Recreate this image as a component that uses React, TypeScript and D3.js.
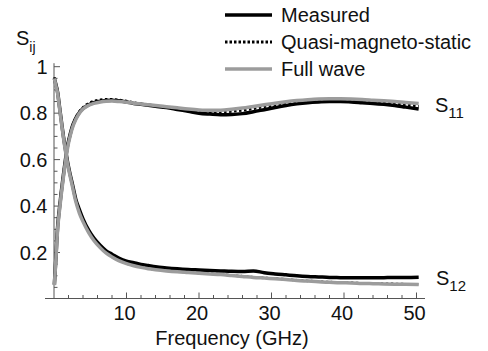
import React from 'react';
import * as d3 from 'd3';

const freq = [0.05, 0.25, 0.5, 0.75, 1.0, 1.3, 1.6, 1.9, 2.2, 2.5, 3.0, 3.5, 4.0, 4.8, 5.5, 6.4, 7.2, 8.0, 9.0, 10, 11, 12, 13, 14, 15.5, 17, 18.5, 20, 21.5, 23, 24.5, 26, 27.5, 29, 30.5, 32, 33.5, 35, 36.5, 38, 39.5, 41, 42.5, 44, 45.5, 47, 48.5, 50.3];

const s11Measured = [0.062, 0.17, 0.31, 0.39, 0.46, 0.535, 0.605, 0.665, 0.705, 0.74, 0.778, 0.803, 0.82, 0.836, 0.845, 0.851, 0.855, 0.856, 0.853, 0.848, 0.842, 0.838, 0.834, 0.83, 0.824, 0.816, 0.808, 0.8, 0.796, 0.793, 0.794, 0.798, 0.806, 0.815, 0.824, 0.833, 0.84, 0.845, 0.848, 0.85, 0.85, 0.848, 0.845, 0.842, 0.838, 0.833, 0.826, 0.818];
const s11FullWave = [0.06, 0.165, 0.3, 0.38, 0.45, 0.525, 0.595, 0.655, 0.698, 0.733, 0.773, 0.8, 0.818, 0.834, 0.842, 0.848, 0.851, 0.852, 0.85, 0.847, 0.843, 0.839, 0.836, 0.833, 0.828, 0.823, 0.818, 0.814, 0.812, 0.813, 0.817, 0.822, 0.829, 0.836, 0.843, 0.849, 0.854, 0.858, 0.861, 0.862, 0.862, 0.861, 0.859, 0.856, 0.853, 0.85, 0.846, 0.842];
const s11Quasi = [0.064, 0.172, 0.31, 0.392, 0.462, 0.537, 0.607, 0.666, 0.708, 0.742, 0.781, 0.807, 0.825, 0.843, 0.852, 0.858, 0.86, 0.86, 0.857, 0.852, 0.846, 0.84, 0.836, 0.832, 0.826, 0.82, 0.814, 0.809, 0.806, 0.805, 0.807, 0.812, 0.819, 0.827, 0.835, 0.842, 0.848, 0.852, 0.855, 0.856, 0.856, 0.855, 0.852, 0.849, 0.845, 0.841, 0.836, 0.83];

const s12Measured = [0.95, 0.925, 0.89, 0.83, 0.77, 0.7, 0.64, 0.585, 0.54, 0.5, 0.43, 0.385, 0.345, 0.295, 0.262, 0.23, 0.207, 0.193, 0.175, 0.163, 0.156, 0.149, 0.144, 0.139, 0.134, 0.13, 0.127, 0.125, 0.123, 0.121, 0.119, 0.118, 0.121, 0.113, 0.108, 0.104, 0.1, 0.097, 0.095, 0.093, 0.092, 0.091, 0.091, 0.091, 0.092, 0.093, 0.093, 0.094];
const s12FullWave = [0.95, 0.92, 0.885, 0.825, 0.765, 0.695, 0.633, 0.578, 0.532, 0.49, 0.42, 0.37, 0.333, 0.285, 0.252, 0.22, 0.197, 0.181, 0.164, 0.152, 0.143, 0.136, 0.13, 0.126, 0.121, 0.117, 0.114, 0.111, 0.108, 0.105, 0.101, 0.097, 0.093, 0.09, 0.087, 0.084, 0.08, 0.077, 0.074, 0.072, 0.07, 0.069, 0.067, 0.066, 0.065, 0.064, 0.063, 0.062];
const s12Quasi = [0.955, 0.927, 0.893, 0.834, 0.774, 0.704, 0.642, 0.587, 0.54, 0.498, 0.428, 0.378, 0.34, 0.29, 0.256, 0.223, 0.2, 0.183, 0.165, 0.153, 0.144, 0.137, 0.131, 0.127, 0.122, 0.118, 0.115, 0.112, 0.109, 0.106, 0.102, 0.098, 0.094, 0.091, 0.088, 0.085, 0.081, 0.078, 0.075, 0.073, 0.071, 0.07, 0.068, 0.067, 0.066, 0.065, 0.064, 0.063];

const xMajorTicks = [10, 20, 30, 40, 50];
const xMinorTicks = d3.range(2, 51, 2);
const yMajorTicks = [0.2, 0.4, 0.6, 0.8, 1];
const yTickLabels = ['0.2', '0.4', '0.6', '0.8', '1'];
const yMinorTicks = d3.range(1, 21).map((i) => i * 0.05);

const legendItems = ['Measured', 'Quasi-magneto-static', 'Full wave'];

const FONT = '"Liberation Sans", Arial, sans-serif';
const GRAY = '#9c9c9c';
const AXIS = '#555';

export default function App() {
  const x = d3.scaleLinear().domain([0, 50]).range([54, 416.5]);
  const y = d3.scaleLinear().domain([0, 1]).range([299, 66.7]);
  const mk = (vals: number[]) =>
    d3
      .line<number>()
      .x((_, i) => x(freq[i]))
      .y((d) => y(d))
      .curve(d3.curveMonotoneX)(vals) || '';

  const legendStyles = [
    { stroke: '#000', dash: undefined as string | undefined, w: 3.5 },
    { stroke: '#000', dash: '2.5,2', w: 3 },
    { stroke: GRAY, dash: undefined as string | undefined, w: 3.5 },
  ];
  const legendY = [15, 42, 69];

  return (
    <div style={{ position: 'absolute', left: 0, top: 0 }}>
      <svg width={488} height={351} style={{ display: 'block', background: '#fff' }} fontFamily={FONT}>
        {/* axes */}
        <line x1={45} x2={425} y1={298.5} y2={298.5} stroke={AXIS} strokeWidth={1} />
        <line x1={54} x2={54} y1={y(1.015)} y2={298.5} stroke={AXIS} strokeWidth={1} />
        {xMinorTicks.map((t) => (
          <line key={'xm' + t} x1={x(t)} x2={x(t)} y1={298.5} y2={298.5 - (t % 10 === 0 ? 6 : 3.5)} stroke={AXIS} strokeWidth={1} />
        ))}
        {yMinorTicks.map((t, i) => (
          <line key={'ym' + i} x1={54} x2={54 + ((i + 1) % 4 === 0 ? 6 : 3.5)} y1={y(t)} y2={y(t)} stroke={AXIS} strokeWidth={1} />
        ))}
        {xMajorTicks.map((t) => (
          <text key={'xl' + t} x={x(t) - 2} y={320} textAnchor="middle" fontSize={20} fill="#111">
            {t}
          </text>
        ))}
        {yMajorTicks.map((t, i) => (
          <text key={'yl' + t} x={47.5} y={y(t)} dy="0.36em" textAnchor="end" fontSize={20} fill="#111">
            {yTickLabels[i]}
          </text>
        ))}
        <text x={232} y={345} textAnchor="middle" fontSize={20} fill="#111">
          Frequency (GHz)
        </text>
        <text x={16} y={45} fontSize={20} fill="#111">
          S
          <tspan fontSize={14} dy={7}>ij</tspan>
        </text>

        {/* curves: measured, quasi-magneto-static, full wave */}
        <path d={mk(s11Measured)} fill="none" stroke="#000" strokeWidth={3.5} />
        <path d={mk(s12Measured)} fill="none" stroke="#000" strokeWidth={3.5} />
        <path d={mk(s11Quasi)} fill="none" stroke="#000" strokeWidth={2.5} strokeDasharray="2.5,2.5" />
        <path d={mk(s12Quasi)} fill="none" stroke="#000" strokeWidth={2.5} strokeDasharray="2.5,2.5" />
        <path d={mk(s11FullWave)} fill="none" stroke={GRAY} strokeWidth={3.5} />
        <path d={mk(s12FullWave)} fill="none" stroke={GRAY} strokeWidth={3.5} />

        {/* curve labels */}
        <text x={435} y={112} fontSize={20} fill="#111">
          S<tspan fontSize={15} dy={6}>11</tspan>
        </text>
        <text x={436} y={285} fontSize={20} fill="#111">
          S<tspan fontSize={15} dy={6}>12</tspan>
        </text>

        {/* legend */}
        {legendItems.map((name, i) => (
          <g key={name}>
            <line
              x1={225}
              x2={272}
              y1={legendY[i]}
              y2={legendY[i]}
              stroke={legendStyles[i].stroke}
              strokeWidth={legendStyles[i].w}
              strokeDasharray={legendStyles[i].dash}
            />
            <text x={281} y={legendY[i]} dy="0.36em" fontSize={20} fill="#111">
              {name}
            </text>
          </g>
        ))}
      </svg>
    </div>
  );
}
